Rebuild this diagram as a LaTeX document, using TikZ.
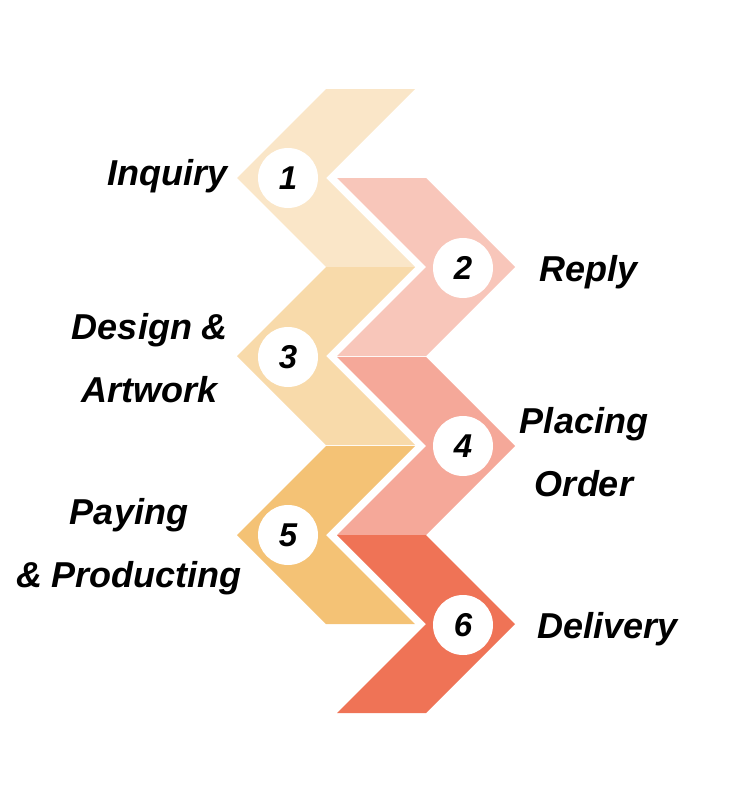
\documentclass[tikz,border=0pt]{standalone}
\usepackage{fontspec}
\setmainfont{Liberation Sans}
\usepackage{xcolor}
\usepackage{tikz}
\usetikzlibrary{positioning}

\definecolor{stepone}{HTML}{FAE6C8}
\definecolor{steptwo}{HTML}{F8C6BA}
\definecolor{stepthree}{HTML}{F8DAAA}
\definecolor{stepfour}{HTML}{F5A899}
\definecolor{stepfive}{HTML}{F4C275}
\definecolor{stepsix}{HTML}{EF7356}

\begin{document}
\begin{tikzpicture}[x=1pt, y=-1pt,
    numdot/.style={circle, fill=white, minimum size=60pt, inner sep=0pt,
                   font=\fontsize{33}{33}\selectfont\bfseries\itshape},
    label/.style={font=\fontsize{36}{63}\selectfont\bfseries\itshape, inner sep=0pt, align=center}]

    % =================================================================
    % 1. KHUNG HINH
    % =================================================================
    \useasboundingbox (0,0) rectangle (750,800);

    % =================================================================
    % 2. CAC MUI TEN BEN TRAI (1, 3, 5)
    % =================================================================
    \fill[stepone]   (326,89)  -- ++(89,0) -- ++(-89,89) -- ++(89,89) -- ++(-89,0) -- ++(-89,-89) -- cycle;
    \fill[stepthree] (326,267) -- ++(89,0) -- ++(-89,89) -- ++(89,89) -- ++(-89,0) -- ++(-89,-89) -- cycle;
    \fill[stepfive]  (326,446) -- ++(89,0) -- ++(-89,89) -- ++(89,89) -- ++(-89,0) -- ++(-89,-89) -- cycle;

    % =================================================================
    % 3. CAC MUI TEN BEN PHAI (2, 4, 6)
    % =================================================================
    \fill[steptwo]  (337,178) -- ++(89,0) -- ++(89,89) -- ++(-89,89) -- ++(-89,0) -- ++(89,-89) -- cycle;
    \fill[stepfour] (337,357) -- ++(89,0) -- ++(89,89) -- ++(-89,89) -- ++(-89,0) -- ++(89,-89) -- cycle;
    \fill[stepsix]  (337,535) -- ++(89,0) -- ++(89,89) -- ++(-89,89) -- ++(-89,0) -- ++(89,-89) -- cycle;

    % =================================================================
    % 4. CAC SO THU TU
    % =================================================================
    \node[numdot] (n1) at (288,178) {1};
    \node[numdot] (n2) at (463,268) {2};
    \node[numdot] (n3) at (288,357) {3};
    \node[numdot] (n4) at (463,446) {4};
    \node[numdot] (n5) at (288,535) {5};
    \node[numdot] (n6) at (463,625) {6};

    % =================================================================
    % 5. NHAN CAC BUOC
    % =================================================================
    \node[label, anchor=base east] (inquiry) at (228,185) {Inquiry};
    \node[label, anchor=base west] (reply) at (539,281) {Reply};
    \node[label] (design) at (150,358) {Design \&\\Artwork};
    \node[label] (placing) at (584,452) {Placing\\Order};
    \node[label] (paying) at (129,547) {Paying\\\& Producting};
    \node[label, anchor=base west] (delivery) at (537,638) {Delivery};

\end{tikzpicture}
\end{document}
